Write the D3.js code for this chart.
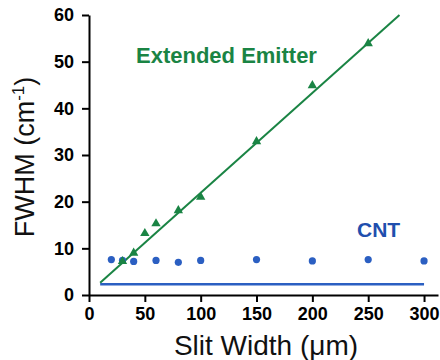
<!DOCTYPE html>
<html><head><meta charset="utf-8">
<script src="https://cdn.jsdelivr.net/npm/d3@7"></script>
<style>body{margin:0;background:#fff}svg{display:block}text{font-family:Arial,"Liberation Sans",sans-serif}</style>
</head><body>
<svg id="c" width="440" height="360"></svg>
<script>
const xTicks = [0, 50, 100, 150, 200, 250, 300];
const yTicks = [0, 10, 20, 30, 40, 50, 60];
const emitterX = [30, 40, 50, 60, 80, 100, 150, 200, 250];
const emitterY = [7.2, 9.0, 13.2, 15.3, 18.1, 21.0, 32.9, 44.9, 53.9];
const cntX = [20, 30, 40, 60, 80, 100, 150, 200, 250, 300];
const cntY = [7.6, 7.4, 7.2, 7.4, 7.0, 7.4, 7.6, 7.3, 7.6, 7.3];
const emitterFit = [[10, 2.6], [278, 60]];
const cntFit = [[10, 2.3], [300, 2.3]];

const green = "#1a8444", blue = "#2b5fc2";
const svg = d3.select("#c");
const x = d3.scaleLinear().domain([0, 312.5]).range([89, 438]);
const y = d3.scaleLinear().domain([0, 60]).range([295, 15]);

const xa = svg.append("g").attr("transform", "translate(0,295)")
  .call(d3.axisBottom(x).tickValues(xTicks).tickSize(7).tickPadding(5).tickSizeOuter(0));
const ya = svg.append("g").attr("transform", "translate(89,0)")
  .call(d3.axisLeft(y).tickValues(yTicks).tickSize(7).tickPadding(8).tickSizeOuter(0));
[xa, ya].forEach(a => {
  a.selectAll("path,line").attr("stroke", "#000").attr("stroke-width", 2);
  a.selectAll("text").attr("font-size", 18).attr("font-weight", "bold").attr("fill", "#000");
});

const line = d3.line().x(d => x(d[0])).y(d => y(d[1]));
svg.append("path").attr("d", line(cntFit)).attr("stroke", blue).attr("stroke-width", 2.5).attr("fill", "none");
svg.append("path").attr("d", line(emitterFit)).attr("stroke", green).attr("stroke-width", 2).attr("fill", "none");

svg.selectAll("circle.cnt").data(cntX).enter().append("circle")
  .attr("cx", d => x(d)).attr("cy", (d, i) => y(cntY[i])).attr("r", 3.6).attr("fill", blue);
const tri = d3.symbol().type(d3.symbolTriangle).size(38);
svg.selectAll("path.em").data(emitterX).enter().append("path")
  .attr("d", tri).attr("fill", green)
  .attr("transform", (d, i) => `translate(${x(d)},${y(emitterY[i])})`);

svg.append("text").attr("x", 136).attr("y", 63).attr("font-size", 22).attr("font-weight", "bold")
  .attr("fill", green).text("Extended Emitter");
svg.append("text").attr("x", 357).attr("y", 237).attr("font-size", 21).attr("font-weight", "bold")
  .attr("fill", "#1f4fae").text("CNT");

svg.append("text").attr("x", 266).attr("y", 355).attr("text-anchor", "middle").attr("font-size", 28)
  .attr("fill", "#111").text("Slit Width (\u03bcm)");
const yt = svg.append("text").attr("transform", "translate(34,157) rotate(-90)").attr("text-anchor", "middle")
  .attr("font-size", 27).attr("fill", "#111");
yt.append("tspan").text("FWHM (cm");
yt.append("tspan").attr("font-size", 17).attr("dy", -10).text("-1");
yt.append("tspan").attr("dy", 10).text(")");
</script>
</body></html>
